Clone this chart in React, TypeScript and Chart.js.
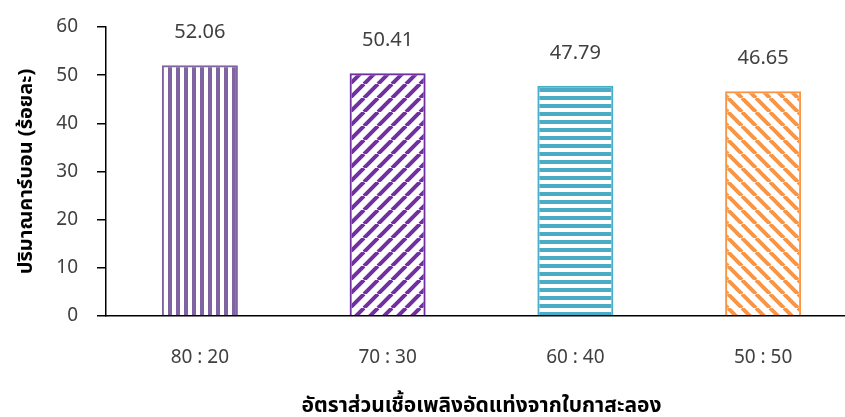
import React, { useEffect, useRef } from "react";
import { Chart, registerables } from "chart.js";

Chart.register(...registerables);

// Data
const categories = ["80 : 20", "70 : 30", "60 : 40", "50 : 50"];
const carbonValues = [52.06, 50.41, 47.79, 46.65];
const yTicks = [0, 10, 20, 30, 40, 50, 60];
const barColors = ["#8064A2", "#7030A0", "#4BACC6", "#F79646"];
const patternKinds = ["vertical", "diagUp", "horizontal", "diagDown"];
const yTitle = "ปริมาณคาร์บอน (ร้อยละ)";
const xTitle = "อัตราส่วนเชื้อเพลิงอัดแท่งจากใบกาสะลอง";

const THAI_FONT = "'Noto Sans Thai', 'Leelawadee UI', Tahoma, 'Noto Sans', 'DejaVu Sans', sans-serif";
const NUM_FONT = "'Noto Sans', 'DejaVu Sans', sans-serif";

function makePattern(kind: string, color: string): CanvasPattern | string {
  const c = document.createElement("canvas");
  const diag = kind === "diagUp" || kind === "diagDown";
  const s = diag ? 14 : 8;
  c.width = s;
  c.height = s;
  const ctx = c.getContext("2d");
  if (!ctx) return color;
  ctx.fillStyle = color;
  ctx.strokeStyle = color;
  if (kind === "vertical") {
    ctx.fillRect(0, 0, 4, s);
  } else if (kind === "horizontal") {
    ctx.fillRect(0, 0, s, 4);
  } else {
    ctx.lineWidth = 4;
    ctx.beginPath();
    for (let k = -1; k <= 1; k++) {
      if (kind === "diagUp") {
        ctx.moveTo(k * s, s);
        ctx.lineTo(k * s + s, 0);
      } else {
        ctx.moveTo(k * s, 0);
        ctx.lineTo(k * s + s, s);
      }
    }
    ctx.stroke();
  }
  const p = ctx.createPattern(c, "repeat");
  return p || color;
}

const valueLabels = {
  id: "valueLabels",
  afterDatasetsDraw(chart: any) {
    const { ctx } = chart;
    const meta = chart.getDatasetMeta(0);
    ctx.save();
    ctx.font = `20px ${NUM_FONT}`;
    ctx.fillStyle = "#404040";
    ctx.textAlign = "center";
    ctx.textBaseline = "middle";
    meta.data.forEach((bar: any, i: number) => {
      ctx.fillText(carbonValues[i].toFixed(2), bar.x, bar.y - 33);
    });
    ctx.restore();
  },
};

export default function App() {
  const canvasRef = useRef<HTMLCanvasElement | null>(null);

  useEffect(() => {
    if (!canvasRef.current) return;
    const patterns = categories.map((_, i) => makePattern(patternKinds[i], barColors[i]));
    const chart = new Chart(canvasRef.current, {
      type: "bar",
      data: {
        labels: categories,
        datasets: [
          {
            data: carbonValues,
            backgroundColor: patterns as any,
            borderColor: barColors,
            borderWidth: 2,
            categoryPercentage: 1,
            barPercentage: 0.405,
          },
        ],
      },
      options: {
        responsive: false,
        animation: false,
        layout: { padding: { left: 16, right: 0, top: 27, bottom: 0 } },
        plugins: {
          legend: { display: false },
          tooltip: { enabled: false },
        },
        scales: {
          x: {
            offset: true,
            grid: { display: false },
            border: { display: true, color: "#000", width: 1.5 },
            ticks: {
              color: "#404040",
              font: { size: 19, family: NUM_FONT },
              padding: 22,
              maxRotation: 0,
            },
            title: {
              display: true,
              text: xTitle,
              color: "#000",
              font: { size: 21, weight: "bold", family: THAI_FONT },
              padding: { top: 13, bottom: -3 },
            },
            afterFit: (scale: any) => {
              scale.height = 417 - 316;
            },
          },
          y: {
            min: 0,
            max: 60,
            afterBuildTicks: (scale: any) => {
              scale.ticks = yTicks.map((v) => ({ value: v }));
            },
            grid: {
              display: true,
              drawOnChartArea: false,
              drawTicks: true,
              tickLength: 9,
              color: "#000",
              lineWidth: 1.5,
            },
            border: { display: true, color: "#000", width: 1.5 },
            ticks: {
              color: "#404040",
              font: { size: 19, family: NUM_FONT },
              padding: 19,
            },
            title: {
              display: true,
              text: yTitle,
              color: "#000",
              font: { size: 20, weight: "bold", family: THAI_FONT },
              padding: { top: 0, bottom: 8 },
            },
            afterFit: (scale: any) => {
              scale.width = 90;
              scale.paddingTop = 12;
              scale.paddingBottom = 12;
            },
          },
        },
      },
      plugins: [valueLabels],
    });
    return () => chart.destroy();
  }, []);

  return (
    <div
      style={{
        position: "fixed",
        left: 0,
        top: 0,
        width: 845,
        height: 417,
        overflow: "hidden",
        background: "#fff",
      }}
    >
      <canvas ref={canvasRef} width={857} height={417} style={{ display: "block" }} />
    </div>
  );
}
